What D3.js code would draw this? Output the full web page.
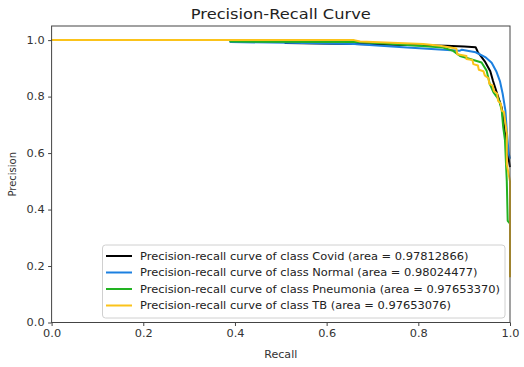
<!DOCTYPE html>
<html><head><meta charset="utf-8">
<script src="https://cdn.jsdelivr.net/npm/d3@7"></script>
<style>body{margin:0;background:#fff}svg{display:block}text{font-family:"DejaVu Sans",sans-serif}</style>
</head><body><svg id="c" width="524" height="367"></svg>
<script>
const classNames = ["Covid","Normal","Pneumonia","TB"];
const areas = ["0.97812866","0.98024477","0.97653370","0.97653076"];
const colors = ["#000000","#1c80e0","#22b322","#fbc31a"];
const xTicks = [0,0.2,0.4,0.6,0.8,1.0];
const yTicks = [0,0.2,0.4,0.6,0.8,1.0];

const covidRecall    = [0,0.51,0.51,0.66,0.86,0.9,0.925,0.93,0.945,0.957,0.963,0.972,0.982,0.99,0.996,1.0];
const covidPrecision = [1,1,0.99,0.986,0.98,0.977,0.975,0.957,0.925,0.89,0.855,0.81,0.76,0.66,0.59,0.55];

const normalRecall    = [0,0.39,0.39,0.55,0.66,0.767,0.89,0.895,0.925,0.946,0.96,0.97,0.978,0.984,0.99,0.993,0.997,1.0];
const normalPrecision = [1,1,0.993,0.99,0.986,0.975,0.962,0.966,0.957,0.94,0.92,0.89,0.855,0.81,0.75,0.68,0.6,0.58];

const pneuRecall    = [0,0.39,0.39,0.673,0.745,0.854,0.876,0.891,0.913,0.938,0.949,0.956,0.964,0.976,0.982,0.985,0.989,0.993,0.995,1.0];
const pneuPrecision = [1,1,0.995,0.993,0.986,0.974,0.962,0.944,0.933,0.921,0.892,0.844,0.815,0.788,0.752,0.694,0.646,0.5,0.36,0.35];

const tbRecall    = [0,0.66,0.673,0.811,0.847,0.883,0.885,0.905,0.905,0.918,0.92,0.93,0.932,0.942,0.945,0.953,0.955,0.962,0.965,0.972,0.974,0.98,0.982,0.987,0.989,0.993,0.993,1.0,1.0];
const tbPrecision = [1,1,0.995,0.986,0.98,0.97,0.95,0.944,0.933,0.93,0.915,0.91,0.895,0.89,0.875,0.865,0.845,0.84,0.82,0.81,0.785,0.775,0.75,0.745,0.717,0.67,0.56,0.5,0.16];

const series = [
  {r: covidRecall, p: covidPrecision},
  {r: normalRecall, p: normalPrecision},
  {r: pneuRecall, p: pneuPrecision},
  {r: tbRecall, p: tbPrecision}
];

const svg = d3.select("#c");
const L = 51.6, R = 510, T = 26, B = 322.5;
const x = d3.scaleLinear().domain([0,1]).range([L,R]);
const y = d3.scaleLinear().domain([0,1.05]).range([B,T]);

const g = svg.append("g");
const line = d3.line().x(d=>x(d[0])).y(d=>y(d[1]));
series.forEach((s,i)=>{
  const pts = s.r.map((v,j)=>[v,s.p[j]]);
  g.append("path").datum(pts).attr("d",line).attr("fill","none")
   .attr("stroke",colors[i]).attr("stroke-width",2).attr("stroke-linejoin","round");
});

// frame
svg.append("rect").attr("x",L).attr("y",T).attr("width",R-L).attr("height",B-T)
  .attr("fill","none").attr("stroke","#444").attr("stroke-width",1);

const xa = svg.append("g").attr("transform",`translate(0,${B})`)
  .call(d3.axisBottom(x).tickValues(xTicks).tickFormat(d3.format(".1f")).tickSize(3.5).tickPadding(4));
const ya = svg.append("g").attr("transform",`translate(${L},0)`)
  .call(d3.axisLeft(y).tickValues(yTicks).tickFormat(d3.format(".1f")).tickSize(3.5).tickPadding(3.5));
[xa,ya].forEach(a=>{
  a.select(".domain").remove();
  a.selectAll("line").attr("stroke","#444");
  a.selectAll("text").attr("font-size",10.5).attr("fill","#333").style("font-family","DejaVu Sans")
    .attr("textLength",18).attr("lengthAdjust","spacingAndGlyphs");
});

svg.append("text").attr("x",(L+R)/2).attr("y",19).attr("text-anchor","middle")
  .attr("font-size",14.5).attr("fill","#222").attr("textLength",180).attr("lengthAdjust","spacingAndGlyphs")
  .text("Precision-Recall Curve");
svg.append("text").attr("x",(L+R)/2).attr("y",358).attr("text-anchor","middle")
  .attr("font-size",10.5).attr("fill","#333").attr("textLength",33).attr("lengthAdjust","spacingAndGlyphs").text("Recall");
svg.append("text").attr("transform",`translate(15.5,${(T+B)/2}) rotate(-90)`).attr("text-anchor","middle")
  .attr("font-size",10).attr("fill","#333").text("Precision");

// legend
const lg = svg.append("g");
lg.append("rect").attr("x",102.5).attr("y",245).attr("width",402.5).attr("height",73).attr("rx",3)
  .attr("fill","#fff").attr("fill-opacity",0.85).attr("stroke","#d0d0d0");
const lt = [];
classNames.forEach((c,i)=>{
  const yy = 256 + i*16.5;
  lg.append("line").attr("x1",106).attr("x2",132).attr("y1",yy).attr("y2",yy)
    .attr("stroke",colors[i]).attr("stroke-width",2);
  lt.push(lg.append("text").attr("x",140).attr("y",yy+3.6).attr("font-size",10.3).attr("fill","#222")
    .text(`Precision-recall curve of class ${c} (area = ${areas[i]})`));
});
const k = 360/lt[2].node().getComputedTextLength();
lt.forEach(t=>t.attr("textLength",t.node().getComputedTextLength()*k).attr("lengthAdjust","spacingAndGlyphs"));
</script></body></html>
